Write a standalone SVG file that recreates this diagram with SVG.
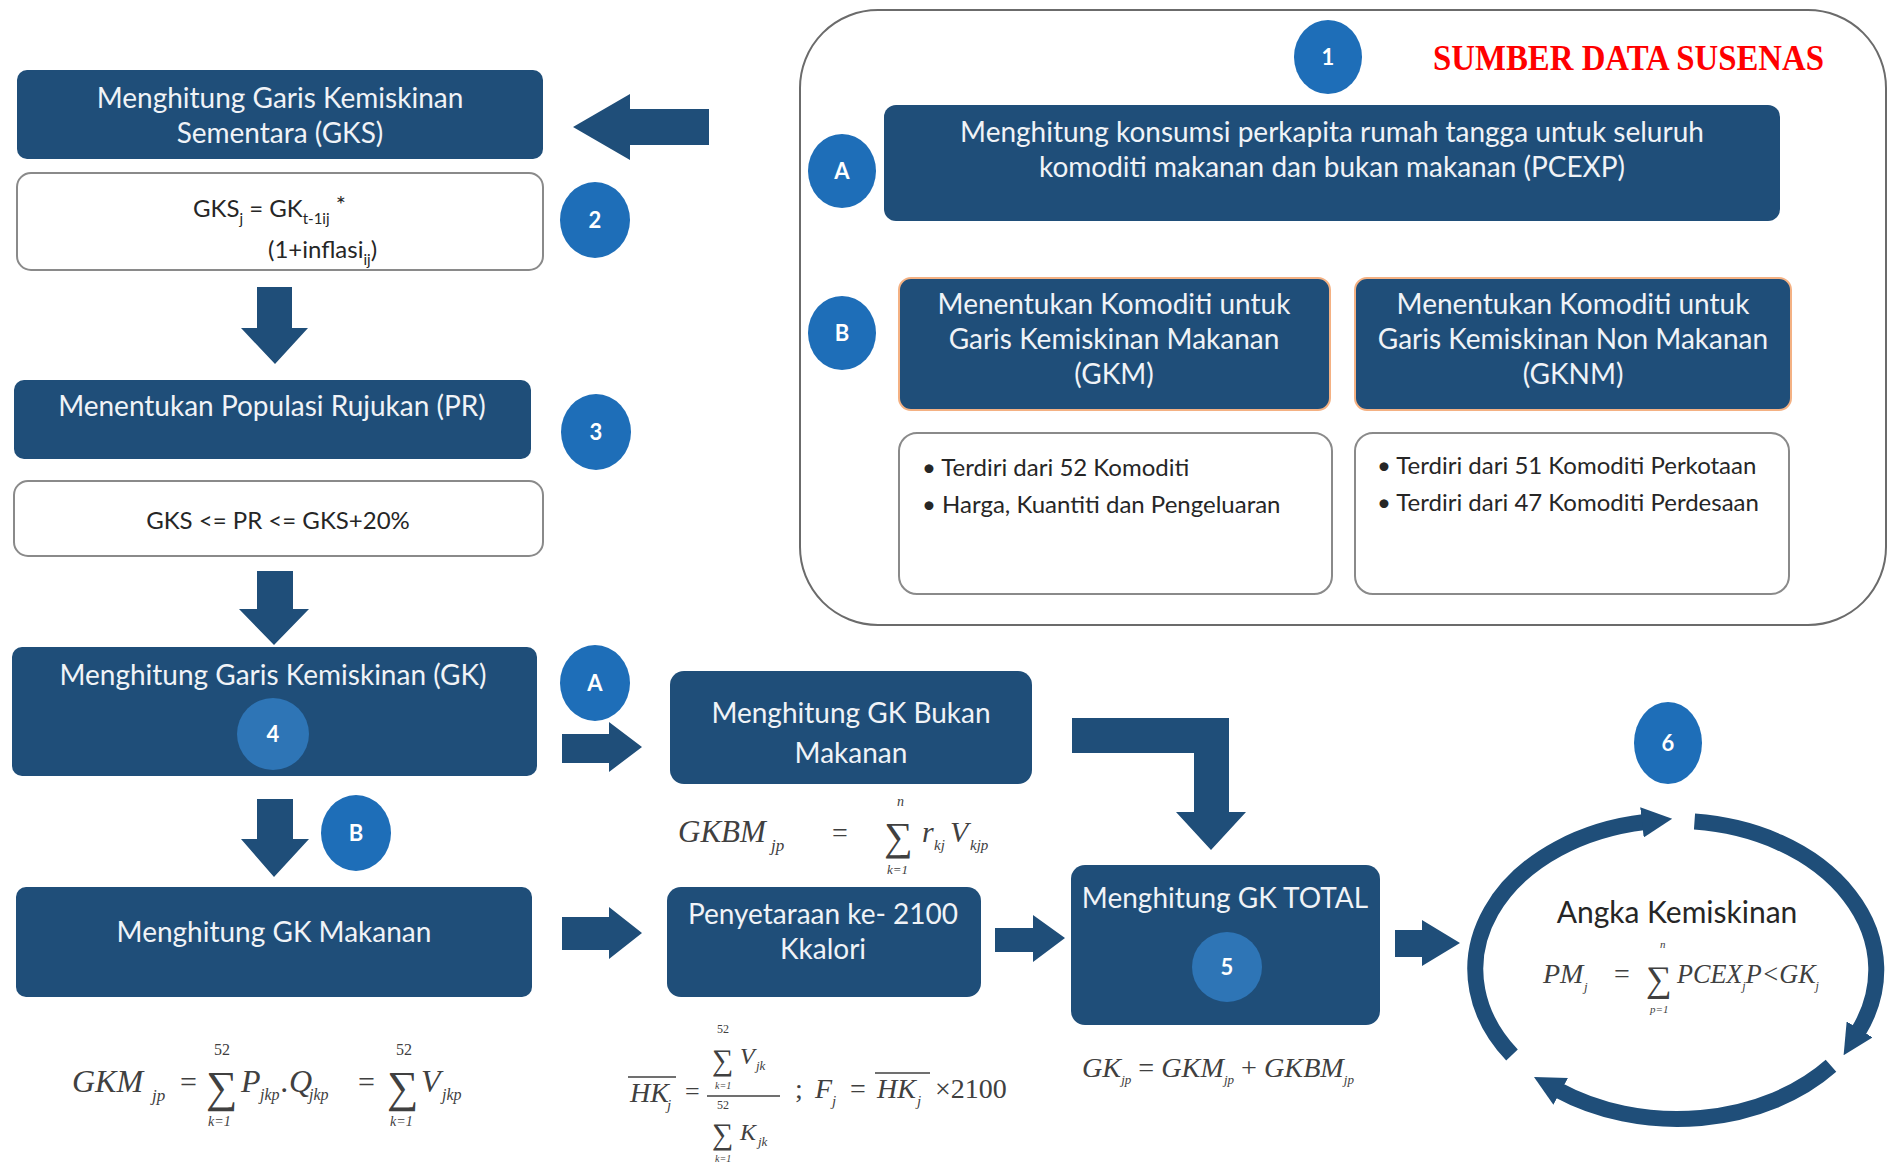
<svg xmlns="http://www.w3.org/2000/svg" width="1892" height="1165" viewBox="0 0 1892 1165">
<defs>
<marker id="ah" viewBox="0 0 10 10" refX="1" refY="5" markerWidth="1.9" markerHeight="1.9" orient="auto" markerUnits="strokeWidth"><path d="M0,0 L10,5 L0,10 z" fill="#1F4E79"/></marker>
<style>
.box{fill:#1F4E79;}
.wbox{fill:#ffffff;stroke:#8a8a8a;stroke-width:2;}
.bt{font-family:Lato,"Open Sans",sans-serif;font-size:28px;fill:#f0f3f7;text-anchor:middle;}
.dt{font-family:Lato,"Open Sans",sans-serif;font-size:24px;fill:#262626;}
.badge{fill:#1E6EB8;}
.inner{fill:#2E75B6;}
.bn{font-family:Lato,"Open Sans",sans-serif;font-weight:bold;font-size:22px;fill:#ffffff;text-anchor:middle;}
.ar{fill:#1F4E79;}
.m{font-family:"Liberation Serif",serif;font-style:italic;fill:#404040;}
.mn{font-family:"Liberation Serif",serif;fill:#404040;}
.loop{fill:none;stroke:#1F4E79;stroke-width:16;marker-end:url(#ah);}
</style>
</defs>
<rect width="1892" height="1165" fill="#ffffff"/>

<g id="panel-susenas">
<rect x="800" y="10" width="1086" height="615" rx="78" fill="none" stroke="#6b6b6b" stroke-width="2"/>
<text x="1433" y="70" font-family="Liberation Serif,serif" font-weight="bold" font-size="36" fill="#ff0000" textLength="391" lengthAdjust="spacingAndGlyphs">SUMBER DATA SUSENAS</text>
</g>
<g id="badge-1"><ellipse class="badge" cx="1328" cy="57" rx="34" ry="37"/><text class="bn" x="1328" y="65">1</text></g>
<g id="badge-1A"><ellipse class="badge" cx="842" cy="171" rx="34" ry="37"/><text class="bn" x="842" y="179">A</text></g>
<g id="node-pcexp">
<rect class="box" x="884" y="105" width="896" height="116" rx="12"/>
<text class="bt" x="1332" y="142">Menghitung konsumsi perkapita rumah tangga untuk seluruh</text>
<text class="bt" x="1332" y="177">komoditi makanan dan bukan makanan (PCEXP)</text>
</g>
<g id="badge-1B"><ellipse class="badge" cx="842" cy="333" rx="34" ry="37"/><text class="bn" x="842" y="341">B</text></g>
<g id="node-komoditi-gkm">
<rect class="box" x="899" y="278" width="431" height="132" rx="12" stroke="#f4b183" stroke-width="2"/>
<text class="bt" x="1114" y="314">Menentukan Komoditi untuk</text>
<text class="bt" x="1114" y="349">Garis Kemiskinan Makanan</text>
<text class="bt" x="1114" y="384">(GKM)</text>
</g>
<g id="node-komoditi-gknm">
<rect class="box" x="1355" y="278" width="436" height="132" rx="12" stroke="#f4b183" stroke-width="2"/>
<text class="bt" x="1573" y="314">Menentukan Komoditi untuk</text>
<text class="bt" x="1573" y="349">Garis Kemiskinan Non Makanan</text>
<text class="bt" x="1573" y="384">(GKNM)</text>
</g>
<g id="node-gkm-detail">
<rect class="wbox" x="899" y="433" width="433" height="161" rx="18"/>
<text class="dt" x="922" y="476">• Terdiri dari 52 Komoditi</text>
<text class="dt" x="922" y="513">• Harga, Kuantiti dan Pengeluaran</text>
</g>
<g id="node-gknm-detail">
<rect class="wbox" x="1355" y="433" width="434" height="161" rx="18"/>
<text class="dt" x="1377" y="474">• Terdiri dari 51 Komoditi Perkotaan</text>
<text class="dt" x="1377" y="511">• Terdiri dari 47 Komoditi Perdesaan</text>
</g>

<g id="node-gks">
<rect class="box" x="17" y="70" width="526" height="89" rx="10"/>
<text class="bt" x="280" y="108">Menghitung Garis Kemiskinan</text>
<text class="bt" x="280" y="143">Sementara (GKS)</text>
</g>
<g id="node-gks-formula">
<rect class="wbox" x="17" y="173" width="526" height="97" rx="14"/>
<text class="dt" x="193" y="217">GKS<tspan font-size="15" dy="7">j</tspan><tspan dy="-7"> = GK</tspan><tspan font-size="15" dy="7">t-1ij</tspan><tspan dy="-11"> *</tspan></text>
<text class="dt" x="268" y="258">(1+inflasi<tspan font-size="15" dy="7">ij</tspan><tspan dy="-7">)</tspan></text>
</g>
<g id="badge-2"><ellipse class="badge" cx="595" cy="220" rx="35" ry="38"/><text class="bn" x="595" y="228">2</text></g>

<g id="node-pr">
<rect class="box" x="14" y="380" width="517" height="79" rx="10"/>
<text class="bt" x="272" y="416">Menentukan Populasi Rujukan (PR)</text>
</g>
<g id="badge-3"><ellipse class="badge" cx="596" cy="432" rx="35" ry="38"/><text class="bn" x="596" y="440">3</text></g>
<g id="node-pr-formula">
<rect class="wbox" x="14" y="481" width="529" height="75" rx="14"/>
<text class="dt" x="278" y="529" font-size="26" text-anchor="middle">GKS &lt;= PR &lt;= GKS+20%</text>
</g>

<g id="node-gk">
<rect class="box" x="12" y="647" width="525" height="129" rx="10"/>
<text class="bt" x="273" y="685">Menghitung Garis Kemiskinan (GK)</text>
<circle class="inner" cx="273" cy="734" r="36"/>
<text class="bn" x="273" y="742">4</text>
</g>
<g id="badge-4A"><ellipse class="badge" cx="595" cy="683" rx="35" ry="38"/><text class="bn" x="595" y="691">A</text></g>
<g id="badge-4B"><ellipse class="badge" cx="356" cy="833" rx="35" ry="38"/><text class="bn" x="356" y="841">B</text></g>

<g id="node-gkbm">
<rect class="box" x="670" y="671" width="362" height="113" rx="14"/>
<text class="bt" x="851" y="723">Menghitung GK Bukan</text>
<text class="bt" x="851" y="763">Makanan</text>
<text class="m" x="678" y="842" font-size="31">GKBM</text>
<text class="m" x="771" y="851" font-size="17">jp</text>
<text class="mn" x="832" y="842" font-size="28">=</text>
<text class="mn" x="884" y="850" font-size="40">∑</text>
<text class="m" x="897" y="806" font-size="14">n</text>
<text class="m" x="887" y="874" font-size="13">k=1</text>
<text class="m" x="922" y="842" font-size="30">r</text>
<text class="m" x="934" y="850" font-size="15">kj</text>
<text class="m" x="950" y="842" font-size="30">V</text>
<text class="m" x="970" y="850" font-size="15">kjp</text>
</g>

<g id="node-gkm">
<rect class="box" x="16" y="887" width="516" height="110" rx="10"/>
<text class="bt" x="274" y="942">Menghitung GK Makanan</text>
<text class="m" x="72" y="1092" font-size="32">GKM</text>
<text class="m" x="152" y="1101" font-size="17">jp</text>
<text class="mn" x="180" y="1092" font-size="30">=</text>
<text class="mn" x="206" y="1102" font-size="44">∑</text>
<text class="mn" x="214" y="1055" font-size="16">52</text>
<text class="m" x="208" y="1126" font-size="14">k=1</text>
<text class="m" x="241" y="1092" font-size="32">P</text>
<text class="m" x="260" y="1100" font-size="16">jkp</text>
<text class="m" x="281" y="1092" font-size="32">.Q</text>
<text class="m" x="309" y="1100" font-size="16">jkp</text>
<text class="mn" x="358" y="1092" font-size="30">=</text>
<text class="mn" x="387" y="1102" font-size="44">∑</text>
<text class="mn" x="396" y="1055" font-size="16">52</text>
<text class="m" x="390" y="1126" font-size="14">k=1</text>
<text class="m" x="421" y="1092" font-size="32">V</text>
<text class="m" x="442" y="1100" font-size="16">jkp</text>
</g>

<g id="node-penyetaraan">
<rect class="box" x="667" y="887" width="314" height="110" rx="14"/>
<text class="bt" x="823" y="924">Penyetaraan ke- 2100</text>
<text class="bt" x="823" y="959">Kkalori</text>
<text class="m" x="630" y="1102" font-size="28">HK</text>
<text class="m" x="667" y="1110" font-size="15">j</text>
<line x1="628" y1="1077" x2="676" y2="1077" stroke="#404040" stroke-width="1.5"/>
<text class="mn" x="685" y="1100" font-size="26">=</text>
<text class="mn" x="717" y="1033" font-size="12">52</text>
<text class="mn" x="712" y="1070" font-size="30">∑</text>
<text class="m" x="715" y="1089" font-size="10">k=1</text>
<text class="m" x="740" y="1064" font-size="24">V</text>
<text class="m" x="756" y="1070" font-size="13">jk</text>
<line x1="707" y1="1096" x2="780" y2="1096" stroke="#404040" stroke-width="1.5"/>
<text class="mn" x="717" y="1109" font-size="12">52</text>
<text class="mn" x="712" y="1144" font-size="30">∑</text>
<text class="m" x="715" y="1162" font-size="10">k=1</text>
<text class="m" x="740" y="1140" font-size="24">K</text>
<text class="m" x="758" y="1146" font-size="13">jk</text>
<text class="mn" x="795" y="1098" font-size="28">;</text>
<text class="m" x="815" y="1098" font-size="28">F</text>
<text class="m" x="832" y="1106" font-size="15">j</text>
<text class="mn" x="850" y="1098" font-size="28">=</text>
<text class="m" x="877" y="1098" font-size="28">HK</text>
<text class="m" x="917" y="1106" font-size="15">j</text>
<line x1="875" y1="1073" x2="930" y2="1073" stroke="#404040" stroke-width="1.5"/>
<text class="mn" x="935" y="1098" font-size="28">×2100</text>
</g>

<g id="node-gk-total">
<rect class="box" x="1071" y="865" width="309" height="160" rx="14"/>
<text class="bt" x="1225" y="908">Menghitung GK TOTAL</text>
<circle class="inner" cx="1227" cy="967" r="35"/>
<text class="bn" x="1227" y="975">5</text>
<text class="m" x="1082" y="1077" font-size="28" textLength="272" lengthAdjust="spacingAndGlyphs">GK<tspan font-size="13" dy="7">jp</tspan><tspan class="mn" dy="-7" font-style="normal"> = </tspan>GKM<tspan font-size="13" dy="7">jp</tspan><tspan dy="-7" font-style="normal"> + </tspan>GKBM<tspan font-size="13" dy="7">jp</tspan></text>
</g>

<g id="node-angka-kemiskinan">
<path class="loop" d="M1512,1055 A201,149 0 0 1 1645,822"/>
<path class="loop" d="M1694.5,821.6 A201,149 0 0 1 1858,1032"/>
<path class="loop" d="M1831,1065.8 A201,149 0 0 1 1558,1090"/>
<text x="1677" y="923" font-family="Lato,'Open Sans',sans-serif" font-size="30" fill="#262626" text-anchor="middle">Angka Kemiskinan</text>
<text class="m" x="1543" y="983" font-size="28">PM</text>
<text class="m" x="1584" y="991" font-size="13">j</text>
<text class="mn" x="1614" y="983" font-size="28">=</text>
<text class="mn" x="1646" y="991" font-size="36">∑</text>
<text class="m" x="1660" y="948" font-size="11">n</text>
<text class="m" x="1650" y="1013" font-size="11">p=1</text>
<text class="m" x="1677" y="983" font-size="28" textLength="142" lengthAdjust="spacingAndGlyphs">PCEX<tspan font-size="13" dy="7">j</tspan><tspan dy="-7">P&lt;GK</tspan><tspan font-size="13" dy="7">j</tspan></text>
</g>
<g id="badge-6"><ellipse class="badge" cx="1668" cy="743" rx="34" ry="41"/><text class="bn" x="1668" y="751">6</text></g>

<g id="connectors">
<polygon class="ar" points="573,127 630,94 630,109 709,109 709,145 630,145 630,160"/>
<polygon class="ar" points="257,287 292,287 292,328 308,328 275,364 241,328 257,328"/>
<polygon class="ar" points="257,571 293,571 293,609 309,609 274,645 239,609 257,609"/>
<polygon class="ar" points="257,799 293,799 293,839 309,839 274,877 241,839 257,839"/>
<polygon class="ar" points="562,734 609,734 609,722 642,747 609,772 609,763 562,763"/>
<polygon class="ar" points="562,917 609,917 609,907 642,933 609,959 609,950 562,950"/>
<polygon class="ar" points="995,928 1033,928 1033,915 1065,938 1033,962 1033,952 995,952"/>
<polygon class="ar" points="1395,930 1422,930 1422,920 1460,943 1422,966 1422,957 1395,957"/>
<polygon class="ar" points="1072,718 1229,718 1229,812 1246,812 1211,850 1176,812 1194,812 1194,753 1072,753"/>
</g>
</svg>
